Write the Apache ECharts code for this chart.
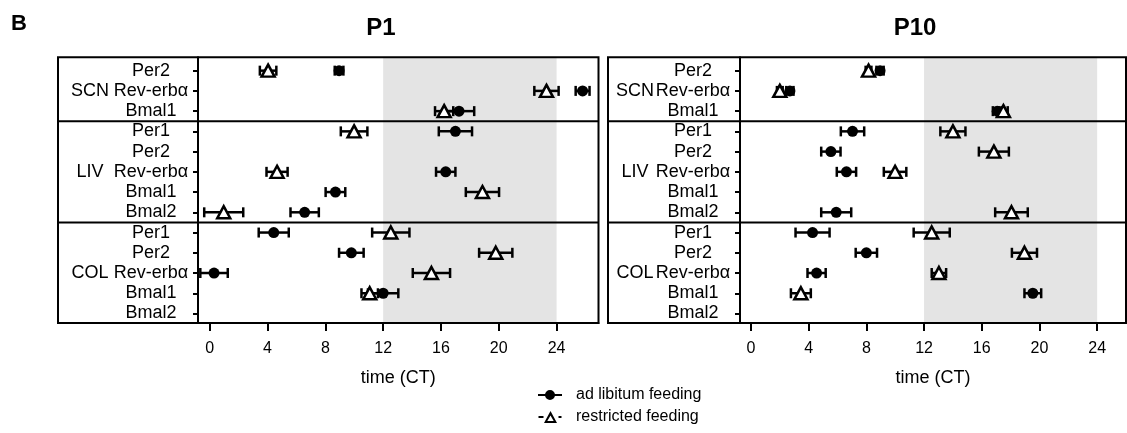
<!DOCTYPE html>
<html><head><meta charset="utf-8">
<script src="https://cdn.jsdelivr.net/npm/echarts@6/dist/echarts.min.js"></script>
<style>html,body{margin:0;padding:0;background:#fff}#c{width:1127px;height:433px}</style>
</head><body><div id="c"></div>
<script>
// ---------- data ----------
const rowLabels = ['Per2','Rev-erbα','Bmal1','Per1','Per2','Rev-erbα','Bmal1','Bmal2','Per1','Per2','Rev-erbα','Bmal1','Bmal2'];
const groupLabels = ['SCN','LIV','COL'];
const groupRows = [1, 5, 10];        // row index where the tissue label sits
const groupBounds = [2.5, 7.5];      // separators between tissues (row units)
const xTicks = [0, 4, 8, 12, 16, 20, 24];
const shadeRange = [12, 24];
const panelTitles = ['P1', 'P10'];

// P1 — ad libitum feeding (circle): phase (CT) and error
const p1AdLib    = [8.95, 25.8, 17.25, 17.0, null, 16.33, 8.7, 6.57, 4.43, 9.8, 0.3, 12.0, null];
const p1AdLibErr = [0.3, 0.48, 1.05, 1.15, null, 0.67, 0.68, 0.98, 1.04, 0.85, 0.95, 1.05, null];
// P1 — restricted feeding (triangle)
const p1Rf       = [4.04, 23.3, 16.22, 9.99, null, 4.66, 18.87, 0.97, 12.53, 19.79, 15.34, 11.07, null];
const p1RfErr    = [0.57, 0.84, 0.63, 0.92, null, 0.73, 1.15, 1.35, 1.29, 1.15, 1.29, 0.57, null];
// P10 — ad libitum feeding
const p10AdLib    = [8.95, 2.7, 17.07, 7.04, 5.54, 6.62, null, 5.91, 4.27, 8.0, 4.55, 19.54, null];
const p10AdLibErr = [0.25, 0.25, 0.3, 0.81, 0.67, 0.67, null, 1.04, 1.18, 0.74, 0.63, 0.58, null];
// P10 — restricted feeding
const p10Rf       = [8.15, 2.0, 17.5, 14.0, 16.84, 9.99, null, 18.06, 12.53, 18.96, 13.03, 3.46, null];
const p10RfErr    = [0.2, 0.2, 0.3, 0.87, 1.04, 0.78, null, 1.13, 1.25, 0.87, 0.5, 0.69, null];

// ---------- layout ----------
const FONT = 'Liberation Sans, Arial, sans-serif';
const TOP = 57.3, BOTTOM = 323;
const Y_MIN = -0.66, Y_MAX = 12.47;
const layouts = [
  {boxL: 58, boxR: 598.5, plotL: 198, xmin: -0.81, xmax: 26.9, gMargin: 108, titleX: 381,
   al: p1AdLib, alE: p1AdLibErr, rf: p1Rf, rfE: p1RfErr},
  {boxL: 608, boxR: 1126, plotL: 740, xmin: -0.76, xmax: 26.0, gMargin: 105, titleX: 915,
   al: p10AdLib, alE: p10AdLibErr, rf: p10Rf, rfE: p10RfErr}
];

const grid = [], xAxis = [], yAxis = [], series = [], graphic = [];

function errData(vals, errs) {
  const out = [];
  vals.forEach((v, i) => { if (v != null) out.push([v - errs[i], v + errs[i], i]); });
  return out;
}
function ptData(vals) {
  const out = [];
  vals.forEach((v, i) => { if (v != null) out.push([v, i]); });
  return out;
}
function errRender(params, api) {
  const y = api.value(2);
  const a = api.coord([api.value(0), y]);
  const b = api.coord([api.value(1), y]);
  const h = 5;
  const st = {stroke: '#000', lineWidth: 2.5};
  return {type: 'group', children: [
    {type: 'line', shape: {x1: a[0], y1: a[1], x2: b[0], y2: b[1]}, style: st},
    {type: 'line', shape: {x1: a[0], y1: a[1] - h, x2: a[0], y2: a[1] + h}, style: st},
    {type: 'line', shape: {x1: b[0], y1: b[1] - h, x2: b[0], y2: b[1] + h}, style: st}
  ]};
}

layouts.forEach((L, p) => {
  const gBox = grid.length;
  grid.push({left: L.boxL, top: TOP, width: L.boxR - L.boxL, height: BOTTOM - TOP,
             show: true, borderColor: '#000', borderWidth: 2, backgroundColor: 'transparent', z: 5});
  const gPlot = grid.length;
  grid.push({left: L.plotL, top: TOP, width: L.boxR - L.plotL, height: BOTTOM - TOP});

  const xBox = xAxis.length;
  xAxis.push({gridIndex: gBox, type: 'value', min: 0, max: 1, show: false});
  const xPlot = xAxis.length;
  xAxis.push({gridIndex: gPlot, type: 'value', min: L.xmin, max: L.xmax, position: 'bottom',
    axisLine: {show: true, onZero: false, lineStyle: {color: '#000', width: 2}},
    axisTick: {show: true, length: 8, lineStyle: {color: '#000', width: 2}, customValues: xTicks},
    axisLabel: {customValues: xTicks, color: '#000', fontSize: 16, fontFamily: FONT, margin: 18},
    splitLine: {show: false},
    name: 'time (CT)', nameLocation: 'middle', nameGap: 46,
    nameTextStyle: {color: '#000', fontSize: 18, fontFamily: FONT}});

  const yBox = yAxis.length;
  yAxis.push({gridIndex: gBox, type: 'value', inverse: true, min: Y_MIN, max: Y_MAX, show: false});
  const yPlot = yAxis.length;
  yAxis.push({gridIndex: gPlot, type: 'value', inverse: true, min: Y_MIN, max: Y_MAX, position: 'left',
    axisLine: {show: true, onZero: false, lineStyle: {color: '#000', width: 2}},
    axisTick: {show: true, length: 5, lineStyle: {color: '#000', width: 2},
               customValues: rowLabels.map((_, i) => i)},
    axisLabel: {customValues: rowLabels.map((_, i) => i), formatter: v => rowLabels[Math.round(v)],
                align: 'center', margin: 47, color: '#000', fontSize: 18, fontFamily: FONT},
    splitLine: {show: false}});
  yAxis.push({gridIndex: gPlot, type: 'value', inverse: true, min: Y_MIN, max: Y_MAX, position: 'left',
    axisLine: {show: false, onZero: false}, axisTick: {show: false}, splitLine: {show: false},
    axisLabel: {customValues: groupRows, formatter: v => groupLabels[groupRows.indexOf(Math.round(v))],
                align: 'center', margin: L.gMargin, color: '#000', fontSize: 18, fontFamily: FONT}});

  // light-phase shading
  series.push({type: 'custom', name: 'shade' + p, xAxisIndex: xPlot, yAxisIndex: yPlot, silent: true, z: 1,
    data: [[shadeRange[0], shadeRange[1]]],
    renderItem: (params, api) => {
      const cs = params.coordSys;
      const x0 = api.coord([api.value(0), 0])[0];
      const x1 = api.coord([api.value(1), 0])[0];
      return {type: 'rect', shape: {x: x0, y: cs.y, width: x1 - x0, height: cs.height},
              style: {fill: '#e4e4e4'}};
    }});
  // tissue separators
  series.push({type: 'custom', name: 'sep' + p, xAxisIndex: xBox, yAxisIndex: yBox, silent: true, z: 6,
    data: groupBounds.map(b => [0, b]),
    renderItem: (params, api) => {
      const cs = params.coordSys;
      const y = api.coord([0, api.value(1)])[1];
      return {type: 'line', shape: {x1: cs.x, y1: y, x2: cs.x + cs.width, y2: y},
              style: {stroke: '#000', lineWidth: 2}};
    }});
  // error bars
  series.push({type: 'custom', name: 'errAL' + p, xAxisIndex: xPlot, yAxisIndex: yPlot, z: 2, silent: true,
    data: errData(L.al, L.alE), renderItem: errRender});
  series.push({type: 'custom', name: 'errRF' + p, xAxisIndex: xPlot, yAxisIndex: yPlot, z: 2, silent: true,
    data: errData(L.rf, L.rfE), renderItem: errRender});
  // points
  series.push({type: 'scatter', name: 'ad libitum feeding', xAxisIndex: xPlot, yAxisIndex: yPlot, z: 3,
    symbol: 'circle', symbolSize: 11, itemStyle: {color: '#000', opacity: 1},
    data: ptData(L.al)});
  series.push({type: 'scatter', name: 'restricted feeding', xAxisIndex: xPlot, yAxisIndex: yPlot, z: 4,
    symbol: 'triangle', symbolSize: [13, 12],
    itemStyle: {color: '#fff', borderColor: '#000', borderWidth: 2.5, opacity: 1},
    data: ptData(L.rf)});

  graphic.push({type: 'text', x: L.titleX, y: 28,
    style: {text: panelTitles[p], fill: '#000', font: 'bold 24px ' + FONT, textAlign: 'center', textVerticalAlign: 'middle'}});
});

graphic.push({type: 'text', x: 11, y: 24,
  style: {text: 'B', fill: '#000', font: 'bold 22px ' + FONT, textAlign: 'left', textVerticalAlign: 'middle'}});

const chart = echarts.init(document.getElementById('c'), null, {renderer: 'canvas'});
chart.setOption({
  backgroundColor: '#fff',
  animation: false,
  grid, xAxis, yAxis, series, graphic,
  legend: {
    orient: 'vertical', left: 538, top: 387, padding: 0, itemWidth: 24, itemHeight: 12, itemGap: 6,
    selectedMode: false,
    textStyle: {color: '#000', fontSize: 16, fontFamily: FONT, padding: [0, 0, 0, 9]},
    data: [
      {name: 'ad libitum feeding',
       icon: 'path://M0,5H24V7H0Z M12,1A5,5,0,1,1,12,11A5,5,0,1,1,12,1Z',
       itemStyle: {color: '#000', borderWidth: 0}},
      {name: 'restricted feeding',
       icon: 'path://M0,5H5V7H0Z M20,5H23V7H20Z M12,0L18.5,12L5.5,12Z M12,4.5L8.8,10L15.2,10Z',
       itemStyle: {color: '#000', borderWidth: 0}}
    ]
  }
});
</script></body></html>
